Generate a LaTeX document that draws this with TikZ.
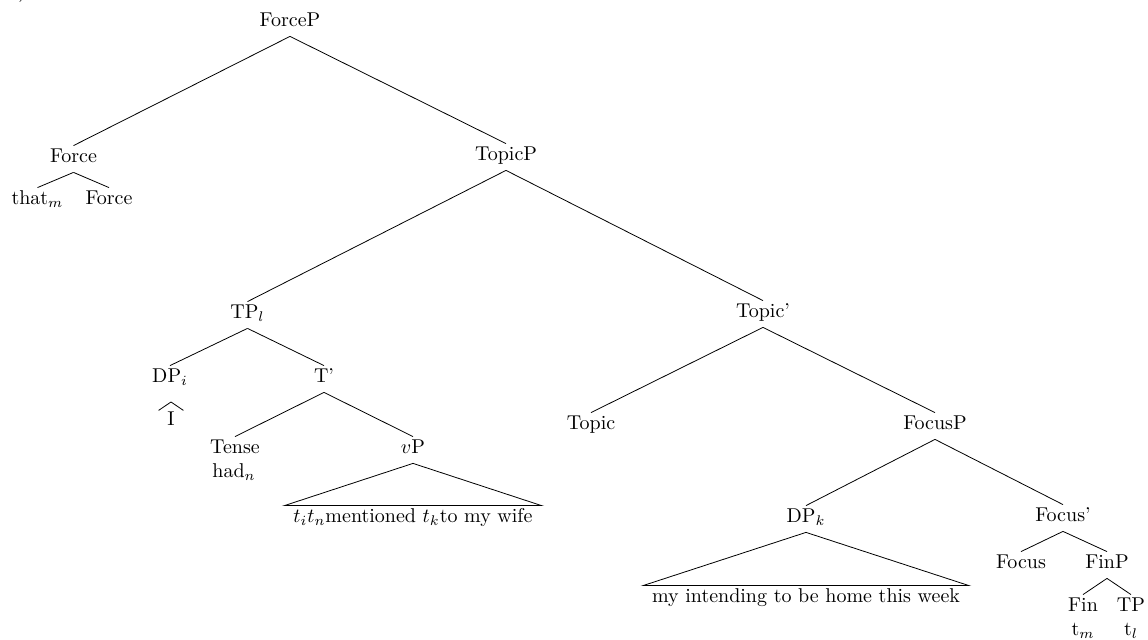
\documentclass[tikz,border=0pt]{standalone}
\usetikzlibrary{positioning}

\begin{document}
\begin{tikzpicture}[x=0.5pt, y=-0.5pt]

\tikzset{cat/.style={anchor=base,inner sep=0pt,text height=8.5pt,text depth=4.5pt},
word/.style={anchor=base,inner sep=0pt},
yield/.style={anchor=base,inner xsep=4.3pt,inner ysep=0pt,text height=8.5pt,text depth=2pt}}

\useasboundingbox (0,0) rectangle (1148,640);

% Label (cut off at the top)
\node[word,anchor=base west] (lbl) at (18,-2) {)};

% Nodes
\node[cat] (forcep) at (290,27) {ForceP};
\node[cat] (force) at (73.5,163) {Force};
\node[cat] (that) at (37.5,205) {that$_m$};
\node[cat] (forcehd) at (109,205) {Force};
\node[cat] (topicp) at (506,161) {TopicP};
\node[cat] (tpl) at (247.5,319) {TP$_l$};
\node[cat] (topicbar) at (763,318) {Topic'};
\node[cat] (dpi) at (170,383) {DP$_i$};
\node[word,inner xsep=4.2pt,text height=7.6pt] (pron) at (171,426) {I};
\node[cat] (tbar) at (324,383) {T'};
\node[cat] (tense) at (235,454) {Tense};
\node[word] (had) at (234,478) {had$_n$};
\node[cat] (vp) at (413,454) {$v$P};
\node[yield] (vpyield) at (413,523) {$t_i t_n$mentioned $t_k$to my wife};
\node[cat] (topic) at (591,430) {Topic};
\node[cat] (focusp) at (935,430) {FocusP};
\node[cat] (dpk) at (806,523) {DP$_k$};
\node[yield] (dpkyield) at (806,603) {my intending to be home this week};
\node[cat] (focusbar) at (1063,522) {Focus'};
\node[cat] (focushd) at (1021,569) {Focus};
\node[cat] (finp) at (1107,569) {FinP};
\node[cat] (fin) at (1083,612) {Fin};
\node[word] (tm) at (1083,636) {t$_m$};
\node[cat] (tp) at (1131,612) {TP};
\node[word] (tl) at (1131,636) {t$_l$};
\coordinate (pronroof) at (171,402);

% Edges
\foreach \p/\c in {forcep/force, forcep/topicp, force/that, force/forcehd, topicp/tpl, topicp/topicbar,
  tpl/dpi, tpl/tbar, tbar/tense, tbar/vp, topicbar/topic, topicbar/focusp, focusp/dpk, focusp/focusbar,
  focusbar/focushd, focusbar/finp, finp/fin, finp/tp}
  \draw (\p.south) -- (\c.north);

% Roofs
\draw (vp.south) -- (vpyield.north west) -- (vpyield.north east) -- cycle;
\draw (dpk.south) -- (dpkyield.north west) -- (dpkyield.north east) -- cycle;
\draw (pron.north west) -- (pronroof) -- (pron.north east);

\end{tikzpicture}
\end{document}
